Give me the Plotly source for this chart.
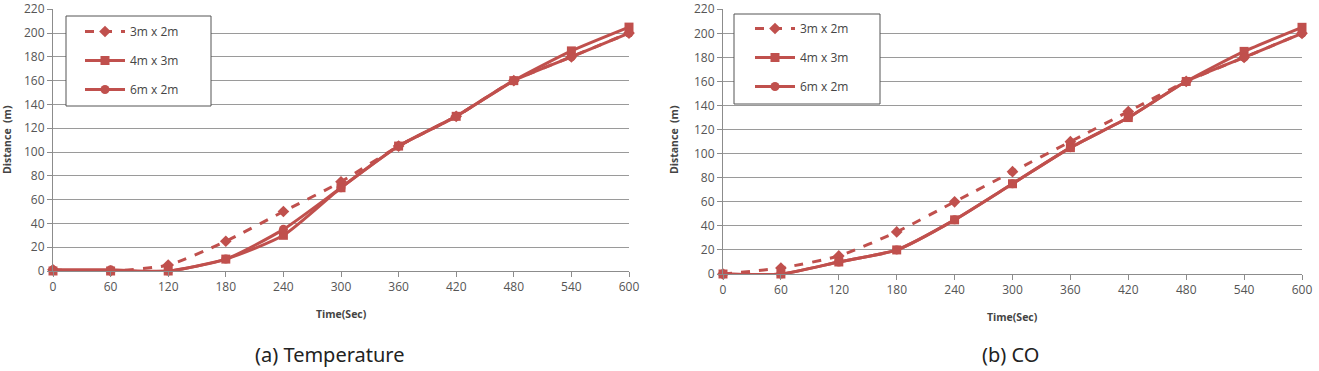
import plotly.graph_objects as go

time_sec = [0, 60, 120, 180, 240, 300, 360, 420, 480, 540, 600]
series_names = ["3m x 2m", "4m x 3m", "6m x 2m"]

temp_3x2 = [1, 0, 5, 25, 50, 75, 105, 130, 160, 180, 200]
temp_4x3 = [0, 0, 0, 10, 30, 70, 105, 130, 160, 185, 205]
temp_6x2 = [1, 1, 0, 10, 35, 70, 105, 130, 160, 180, 200]

co_3x2 = [0, 5, 15, 35, 60, 85, 110, 135, 160, 180, 200]
co_4x3 = [0, 0, 10, 20, 45, 75, 105, 130, 160, 185, 205]
co_6x2 = [0, 0, 10, 20, 45, 75, 105, 130, 160, 180, 200]

x_ticks = [0, 60, 120, 180, 240, 300, 360, 420, 480, 540, 600]
y_ticks = list(range(0, 221, 20))

captions = ["(a) Temperature", "(b) CO"]
x_title = "Time(Sec)"
y_title = "Distance  (m)"

RED = "#C0504D"
styles = [
    dict(dash="dash", symbol="diamond"),
    dict(dash="solid", symbol="square"),
    dict(dash="solid", symbol="circle"),
]

fig = go.Figure()

panels = [
    (temp_3x2, temp_4x3, temp_6x2),
    (co_3x2, co_4x3, co_6x2),
]
for p, data in enumerate(panels):
    xa = "x" if p == 0 else "x2"
    ya = "y" if p == 0 else "y2"
    leg = "legend" if p == 0 else "legend2"
    for i, (name, vals) in enumerate(zip(series_names, data)):
        fig.add_trace(go.Scatter(
            x=time_sec, y=vals, name=name, xaxis=xa, yaxis=ya,
            mode="lines+markers",
            line=dict(color=RED, width=3, dash=styles[i]["dash"], shape="spline", smoothing=0.6),
            marker=dict(color=RED, size=9, symbol=styles[i]["symbol"]),
            legend=leg, legendgroup=f"{p}-{i}", cliponaxis=False,
        ))

W, H = 1319, 371
def fx(px): return px / W
def fy(py): return 1 - py / H

tickfont = dict(family="Open Sans", size=12, color="#555555")
axis_common = dict(
    showline=True, linecolor="#8c8c8c", linewidth=1,
    ticks="outside", ticklen=5, tickcolor="#8c8c8c",
    tickfont=tickfont, zeroline=False, automargin=False,
    ticklabeloverflow="allow",
)

legend_common = dict(
    xanchor="left", yanchor="top",
    bgcolor="rgba(0,0,0,0)", borderwidth=0,
    font=dict(family="Open Sans", size=12, color="#444444"),
    tracegroupgap=10, itemwidth=40,
)

fig.update_layout(
    width=W, height=H,
    margin=dict(l=0, r=0, t=0, b=0, autoexpand=False),
    paper_bgcolor="white", plot_bgcolor="white",
    font=dict(family="Open Sans", color="#444444"),
    xaxis=dict(domain=[fx(53), fx(629)], range=[0, 600], tickvals=x_ticks,
               showgrid=False, anchor="y", **axis_common),
    yaxis=dict(domain=[fy(271), fy(8.9)], range=[0, 220.3], tickvals=y_ticks,
               showgrid=True, gridcolor="#9a9a9a", gridwidth=1, anchor="x", **axis_common),
    xaxis2=dict(domain=[fx(723), fx(1302)], range=[0, 600], tickvals=x_ticks,
                showgrid=False, anchor="y2", **axis_common),
    yaxis2=dict(domain=[fy(274), fy(8.9)], range=[0, 220.3], tickvals=y_ticks,
                showgrid=True, gridcolor="#9a9a9a", gridwidth=1, anchor="x2", **axis_common),
    legend=dict(x=fx(80), y=fy(17), **legend_common),
    legend2=dict(x=fx(750), y=fy(14), **legend_common),
    showlegend=True,
)

# legend frames
for x0, y0, x1, y1 in [(66, 16, 211, 106), (734, 14, 880, 104)]:
    fig.add_shape(type="rect", xref="paper", yref="paper",
                  x0=fx(x0), x1=fx(x1), y0=fy(y1), y1=fy(y0),
                  line=dict(color="#555555", width=1), fillcolor="white", layer="above")

for xp, yp in [(341, 314), (1012, 317)]:
    fig.add_annotation(xref="paper", yref="paper", x=fx(xp), y=fy(yp), text=f"<b>{x_title}</b>",
                       showarrow=False, xanchor="center", yanchor="middle",
                       font=dict(family="Open Sans", size=10.5, color="#444444"))
for xp, yp in [(7, 140), (674, 140)]:
    fig.add_annotation(xref="paper", yref="paper", x=fx(xp), y=fy(yp), text=f"<b>{y_title}</b>",
                       showarrow=False, textangle=-90, xanchor="center", yanchor="middle",
                       font=dict(family="Open Sans", size=10.5, color="#444444"))
for xp, txt in [(330, captions[0]), (1010, captions[1])]:
    fig.add_annotation(xref="paper", yref="paper", x=fx(xp), y=fy(354), text=txt,
                       showarrow=False, xanchor="center", yanchor="middle",
                       font=dict(family="Noto Sans", size=20, color="#222222"))

fig.write_html("out.html")
